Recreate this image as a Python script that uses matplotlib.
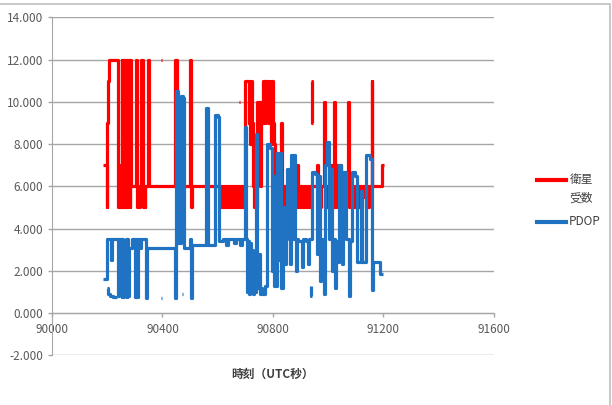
"""
Satellite count and PDOP against UTC seconds, drawn like the Excel original.
Writes out.png (612x405).
"""
import numpy as np
import matplotlib
matplotlib.use("Agg")  # headless
import matplotlib.pyplot as plt
from matplotlib.lines import Line2D
from matplotlib.patches import Rectangle

plt.rcParams["font.family"] = ["Noto Sans CJK JP", "DejaVu Sans"]

nan = np.nan

# number of satellites (step series), time in UTC seconds
red_t = [90185, 90198, 90200, 90202, 90208, 90238, 90240, 90242, 90244, 90247,
         90250, 90253, 90255, 90258, 90260, 90262, 90265, 90267, 90270, 90272,
         90275, 90278, 90281, 90284, 90287, 90305, 90309, 90313, 90316, 90320,
         90324, 90328, 90332, 90335, 90338, 90347, 90350, 90447, 90452, 90455,
         90468, 90472, 90501, 90504, 90507, 90612, 90616, 90619, 90623, 90627,
         90630, 90634, 90638, 90642, 90646, 90650, 90654, 90658, 90662, 90670,
         90672, 90682, 90686, 90690, 90694, 90698, 90700, 90712, 90714, 90718,
         90720, 90724, 90727, 90730, 90734, 90738, 90742, 90746, 90749, 90752,
         90755, 90758, 90764, 90770, 90773, 90776, 90779, 90782, 90785, 90790,
         90794, 90797, 90800, 90804, 90808, 90812, 90818, 90822, 90830, 90834,
         90838, 90842, 90846, 90850, 90854, 90860, 90864, 90870, 90874, 90880,
         90884, 90888, 90891, 90895, 90900, 90904, 90910, 90914, 90920, 90924,
         90930, 90934, 90959, 90962, 90966, 90970, 90974, 90986, 90990, 90994,
         90998, 91002, 91006, 91010, 91013, 91020, 91026, 91030, 91034, 91038,
         91042, 91045, 91048, 91072, 91077, 91080, 91084, 91088, 91092, 91096,
         91100, 91104, 91108, 91112, 91118, 91122, 91128, 91134, 91140, 91146,
         91157, 91160, 91194, 91202]
red_v = [7, 5, 9, 11, 12, 11, 5, 7, 5, 6,
         5, 12, 5, 12, 6, 12, 5, 12, 5, 12,
         6, 12, 5, 12, 6, 12, 5, 6, 5, 6,
         12, 5, 6, 5, 6, 12, 6, 12, 5, 6,
         5, 6, 12, 5, 6, 5, 6, 5, 6, 5,
         6, 5, 6, 5, 6, 5, 6, 5, 6, 5,
         6, 5, 6, 5, 6, 5, 11, 9, 10, 8,
         11, 9, 6, 5, 6, 5, 10, 9, 10, 6,
         10, 9, 11, 9, 11, 10, 11, 9, 11, 10,
         8, 11, 9, 8, 5, 6, 5, 6, 9, 5,
         6, 5, 6, 5, 6, 5, 6, 5, 6, 5,
         6, 7, 5, 6, 5, 6, 5, 6, 5, 6,
         5, 6, 7, 5, 6, 5, 6, 10, 5, 6,
         5, 6, 5, 7, 5, 10, 5, 7, 5, 6,
         7, 5, 6, 10, 5, 6, 5, 6, 5, 6,
         5, 6, 5, 6, 5, 6, 5.5, 6, 5, 6,
         11, 6, 7, nan]

# isolated satellite-count samples
red_extra_t = [90396, 90400, 90676, 90680, 90939, 90942, 90944]
red_extra_v = [12, nan, 10, nan, 11, 9, nan]

# PDOP (step series)
blue_t = [90185, 90199, 90214, 90217, 90238, 90241, 90245, 90248, 90252, 90255,
          90258, 90261, 90264, 90267, 90270, 90273, 90276, 90279, 90290, 90300,
          90304, 90308, 90312, 90318, 90322, 90340, 90344, 90445, 90448, 90456,
          90466, 90474, 90478, 90500, 90503, 90506, 90557, 90565, 90590, 90600,
          90604, 90620, 90630, 90636, 90660, 90665, 90680, 90688, 90699, 90702,
          90706, 90709, 90712, 90716, 90720, 90724, 90728, 90732, 90735, 90740,
          90744, 90748, 90752, 90756, 90760, 90770, 90778, 90790, 90796, 90800,
          90804, 90808, 90812, 90816, 90820, 90825, 90830, 90836, 90840, 90846,
          90850, 90858, 90862, 90866, 90870, 90876, 90880, 90884, 90888, 90892,
          90905, 90910, 90920, 90928, 90932, 90940, 90952, 90960, 90964, 90970,
          90974, 90980, 90986, 90990, 90996, 91004, 91008, 91014, 91020, 91024,
          91028, 91034, 91040, 91046, 91050, 91054, 91062, 91066, 91076, 91080,
          91086, 91098, 91104, 91118, 91124, 91138, 91152, 91160, 91162, 91187,
          91200]
blue_v = [1.6, 3.5, 2.5, 3.5, 0.8, 3.5, 1.5, 3.5, 0.75, 3.5,
          0.75, 3.4, 0.8, 3.5, 0.75, 3.5, 0.8, 3.1, 3.5, 0.75,
          3.5, 0.75, 3.5, 3.1, 3.5, 0.7, 3.1, 0.7, 10.5, 3.3,
          10.3, 10.2, 3.1, 3.5, 0.7, 3.2, 9.7, 3.2, 9.4, 9.3,
          3.4, 3.5, 3.2, 3.5, 3.3, 3.5, 3.2, 3.5, 8.8, 3.5,
          1.0, 3.4, 0.9, 3.3, 1.0, 3.0, 0.9, 2.7, 1.0, 8.5,
          1.2, 2.8, 0.9, 1.2, 0.9, 1.3, 8.0, 7.8, 2.0, 6.5,
          1.3, 5.5, 1.3, 7.6, 2.5, 7.6, 1.2, 5.0, 2.3, 3.5,
          6.8, 6.8, 2.3, 7.5, 3.5, 7.5, 3.5, 2.0, 3.5, 3.4,
          2.2, 3.5, 3.4, 2.3, 3.5, 6.7, 6.6, 2.8, 6.5, 1.5,
          3.5, 2.2, 0.9, 7.0, 8.1, 3.5, 6.8, 2.0, 3.5, 1.2,
          3.4, 2.4, 7.0, 3.4, 2.3, 6.7, 6.7, 3.5, 0.8, 3.4,
          6.7, 6.5, 2.4, 5.8, 2.4, 7.5, 7.3, 1.1, 2.4, 1.85,
          nan]

# isolated PDOP samples
blue_extra_t = [90200, 90204, 90210, 90220, 90234, 90236,
                90396, 90399, 90472, 90475, 90679, 90682, 90936, 90938, 90941]
blue_extra_v = [1.2, 0.9, 0.8, 0.75, 0.75, nan,
                0.7, nan, 0.9, nan, 0.95, nan, 1.3, 0.8, nan]

x_ticks = [90000, 90400, 90800, 91200, 91600]
y_ticks = [-2, 0, 2, 4, 6, 8, 10, 12, 14]
legend_labels = ["衛星", "受数", "PDOP"]

RED = "#ff0000"
BLUE = "#1f73c2"
LW = 2.3

fig = plt.figure(figsize=(6.12, 4.05), dpi=100)
ax = fig.add_axes([0.085, 0.123, 0.722, 0.834])

ax.plot(red_t, red_v, drawstyle="steps-post", color=RED, lw=LW,
        solid_capstyle="butt", zorder=3)
ax.plot(red_extra_t, red_extra_v, drawstyle="steps-post", color=RED, lw=LW,
        solid_capstyle="butt", zorder=3)
ax.plot(blue_t, blue_v, drawstyle="steps-post", color=BLUE, lw=LW,
        solid_capstyle="butt", zorder=4)
ax.plot(blue_extra_t, blue_extra_v, drawstyle="steps-post", color=BLUE, lw=LW,
        solid_capstyle="butt", zorder=4)

ax.set_xlim(90000, 91600)
ax.set_ylim(-2, 14)
ax.set_xticks(x_ticks)
ax.set_yticks(y_ticks)
ax.set_yticklabels([f"{v:.3f}" for v in y_ticks])
ax.grid(axis="y", color="#a6a6a6", lw=1.0, zorder=0)
ax.set_axisbelow(True)

for s in ("top", "right"):
    ax.spines[s].set_visible(False)
ax.spines["bottom"].set_position(("data", 0))
ax.spines["bottom"].set_color("#a6a6a6")
ax.spines["left"].set_color("#a6a6a6")
ax.spines["bottom"].set_zorder(1)
ax.tick_params(axis="both", colors="#a6a6a6", length=3, width=1,
               labelsize=8.5, labelcolor="#595959")
ax.tick_params(axis="x", pad=4)

fig.text(0.445, 0.077, "時刻（UTC秒）", ha="center", va="center",
         fontsize=8.5, fontweight="bold", color="#404040")

# legend drawn by hand so the red key lines up with the first label line
fig.add_artist(Line2D([0.877, 0.925], [0.556, 0.556], color=RED, lw=3,
                      transform=fig.transFigure))
fig.add_artist(Line2D([0.877, 0.925], [0.452, 0.452], color=BLUE, lw=3,
                      transform=fig.transFigure))
fig.text(0.931, 0.556, legend_labels[0], va="center", fontsize=8.5, color="#404040")
fig.text(0.931, 0.511, legend_labels[1], va="center", fontsize=8.5, color="#404040")
fig.text(0.929, 0.452, legend_labels[2], va="center", fontsize=8.5, color="#404040")

# chart frame: only the top and right edges fall inside the image
fig.patches.append(Rectangle((-0.01, -0.02), 1.007, 1.009, transform=fig.transFigure,
                             fill=False, edgecolor="#bfbfbf", lw=1.2))

fig.savefig("out.png", dpi=100)
